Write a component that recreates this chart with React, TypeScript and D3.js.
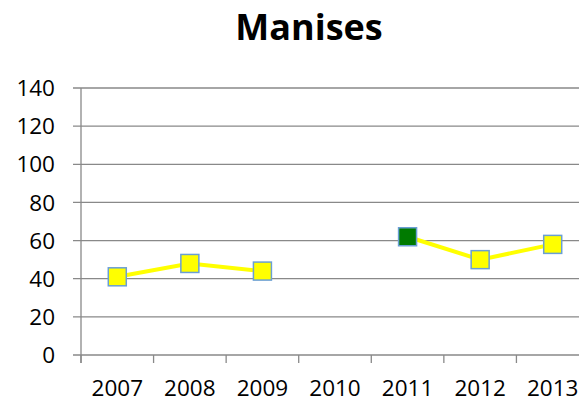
import React, { useRef, useEffect } from "react";
import * as d3 from "d3";

const years = ["2007", "2008", "2009", "2010", "2011", "2012", "2013"];
const values: (number | null)[] = [41, 48, 44, null, 62, 50, 58];
const highlight = ["2011"];
const yTicks = [0, 20, 40, 60, 80, 100, 120, 140];

const App = () => {
  const ref = useRef<SVGSVGElement>(null);

  useEffect(() => {
    const svg = d3.select(ref.current);
    svg.selectAll("*").remove();

    const width = 579;
    const height = 408;
    const margin = { top: 88, left: 81, bottom: 53 };
    const plotRight = 589;

    const x = d3.scaleBand().domain(years).range([margin.left, plotRight]);
    const y = d3.scaleLinear().domain([0, 140]).range([height - margin.bottom, margin.top]);

    svg.append("rect").attr("width", width).attr("height", height).attr("fill", "white");

    // gridlines
    svg
      .append("g")
      .selectAll("line")
      .data(yTicks)
      .join("line")
      .attr("x1", margin.left - 8)
      .attr("x2", plotRight)
      .attr("y1", (d) => y(d))
      .attr("y2", (d) => y(d))
      .attr("stroke", "#898989")
      .attr("stroke-width", 1.3);

    // y axis line
    svg
      .append("line")
      .attr("x1", margin.left)
      .attr("x2", margin.left)
      .attr("y1", y(140))
      .attr("y2", y(0) + 8)
      .attr("stroke", "#898989")
      .attr("stroke-width", 1.3);

    // x category ticks
    svg
      .append("g")
      .selectAll("line")
      .data(years)
      .join("line")
      .attr("x1", (d) => x(d)!)
      .attr("x2", (d) => x(d)!)
      .attr("y1", y(0))
      .attr("y2", y(0) + 8)
      .attr("stroke", "#898989")
      .attr("stroke-width", 1.3);

    // y labels
    svg
      .append("g")
      .selectAll("text")
      .data(yTicks)
      .join("text")
      .attr("x", 55)
      .attr("y", (d) => y(d))
      .attr("dy", "0.36em")
      .attr("text-anchor", "end")
      .attr("font-family", "Open Sans")
      .attr("font-size", "22.5px")
      .attr("fill", "#000")
      .text((d) => d);

    // x labels
    svg
      .append("g")
      .selectAll("text")
      .data(years)
      .join("text")
      .attr("x", (d) => x(d)! + x.bandwidth() / 2)
      .attr("y", 396)
      .attr("text-anchor", "middle")
      .attr("font-family", "Open Sans")
      .attr("font-size", "22.5px")
      .attr("fill", "#000")
      .text((d) => d);

    const pts = years.map((yr, i) => ({ yr, v: values[i] }));

    const line = d3
      .line<{ yr: string; v: number | null }>()
      .defined((d) => d.v !== null)
      .x((d) => x(d.yr)! + x.bandwidth() / 2)
      .y((d) => y(d.v as number));

    svg
      .append("path")
      .datum(pts)
      .attr("d", line)
      .attr("fill", "none")
      .attr("stroke", "#ffff00")
      .attr("stroke-width", 4);

    const size = 18;
    svg
      .append("g")
      .selectAll("rect")
      .data(pts.filter((d) => d.v !== null))
      .join("rect")
      .attr("x", (d) => x(d.yr)! + x.bandwidth() / 2 - size / 2)
      .attr("y", (d) => y(d.v as number) - size / 2)
      .attr("width", size)
      .attr("height", size)
      .attr("fill", (d) => (highlight.includes(d.yr) ? "#007a00" : "#ffff00"))
      .attr("stroke", "#6a9fd4")
      .attr("stroke-width", 1.5);

    svg
      .append("text")
      .attr("x", 309)
      .attr("y", 40)
      .attr("text-anchor", "middle")
      .attr("font-family", "Open Sans")
      .attr("font-weight", "bold")
      .attr("font-size", "36px")
      .attr("fill", "#000")
      .text("Manises");
  }, []);

  return <svg ref={ref} width={579} height={408} style={{ display: "block", position: "absolute", left: 0, top: 0 }}></svg>;
};

export default App;
